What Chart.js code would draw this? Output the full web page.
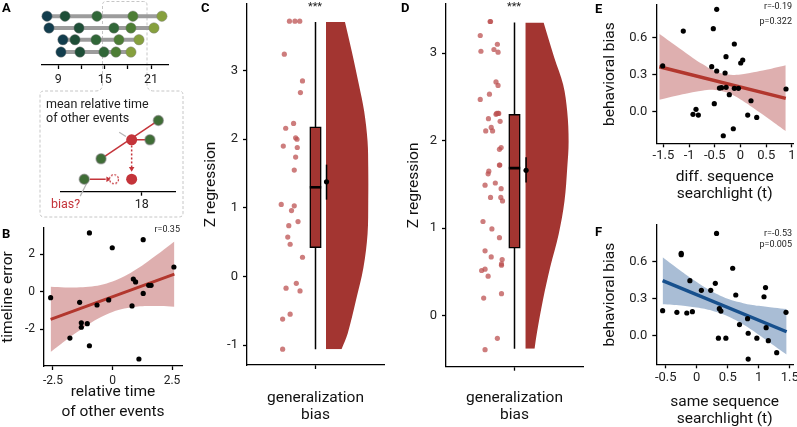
<!DOCTYPE html>
<html>
<head>
<meta charset="utf-8">
<script src="https://cdn.jsdelivr.net/npm/chart.js@4.4.1/dist/chart.umd.min.js"></script>
<style>
  html, body { margin: 0; padding: 0; background: #fff; }
  body { width: 797px; height: 427px; position: relative; overflow: hidden; font-family: Roboto, sans-serif; }
  canvas { position: absolute; }
  .lbl { position: absolute; font-weight: bold; font-size: 13px; line-height: 13px; color: #000; }
  .txt { position: absolute; white-space: nowrap; color: #222; }
  .stat { position: absolute; white-space: nowrap; font-size: 9px; line-height: 9px; color: #222; text-align: right; }
</style>
</head>
<body>
<svg width="195" height="222" style="position:absolute;left:0;top:0">
  <path d="M102.5,84 L102.5,5 Q102.5,1.5 106,1.5 L143.5,1.5 Q147,1.5 147,5 L147,84 Q147,91 154,91 L179,91 Q183,91 183,95 L183,213 Q183,217 179,217 L44,217 Q40,217 40,213 L40,95 Q40,91 44,91 L95.5,91 Q102.5,91 102.5,84 Z"
        fill="none" stroke="#c6c6c6" stroke-width="1" stroke-dasharray="3,2"/>
</svg>

<canvas id="aTop" width="195" height="95" style="left:0;top:0"></canvas>
<canvas id="aBot" width="195" height="125" style="left:0;top:95px"></canvas>
<canvas id="chartB" width="190" height="200" style="left:0;top:222px"></canvas>
<canvas id="chartC" width="195" height="427" style="left:195px;top:0"></canvas>
<canvas id="chartD" width="190" height="427" style="left:400px;top:0"></canvas>
<canvas id="chartE" width="202" height="215" style="left:595px;top:0"></canvas>
<canvas id="chartF" width="202" height="212" style="left:595px;top:215px"></canvas>

<div class="lbl" style="left:2px;top:1px">A</div>
<div class="lbl" style="left:2px;top:227px">B</div>
<div class="lbl" style="left:201px;top:1px">C</div>
<div class="lbl" style="left:401px;top:1px">D</div>
<div class="lbl" style="left:595px;top:2px">E</div>
<div class="lbl" style="left:595px;top:225px">F</div>

<div class="txt" style="left:46px;top:97px;font-size:12.5px;line-height:14.3px">mean relative time<br>of other events</div>
<div class="txt" style="left:51px;top:197px;font-size:12.5px;line-height:14px;color:#c4343a">bias?</div>

<div class="stat" style="right:617px;top:225px">r=0.35</div>
<div class="stat" style="right:5px;top:2px">r=-0.19</div>
<div class="stat" style="right:5px;top:17px">p=0.322</div>
<div class="stat" style="right:5px;top:229px">r=-0.53</div>
<div class="stat" style="right:5px;top:240px">p=0.005</div>

<div class="txt" style="left:300px;top:1px;width:30px;text-align:center;font-size:11px;line-height:11px">***</div>
<div class="txt" style="left:499px;top:1px;width:30px;text-align:center;font-size:11px;line-height:11px">***</div>

<script>
// ---- panel A: event timelines (schematic) ----
const aRowLevel = [4.15, 3.15, 2.15, 1.1];
const aRowTimes = [
  [7.54, 9.87, 14.0, 18.66, 22.41],
  [7.8, 11.68, 16.2, 18.4, 21.38],
  [9.6, 11.16, 13.88, 16.85, 19.44],
  [9.35, 11.8, 14.9, 16.46, 18.4]
];
const aEventColors = ['#123d4d', '#1e4e37', '#316738', '#4d7d35', '#86a03e'];
const aTopTicks = [9, 12, 15, 18, 21];
const aTopLabels = ['9', '', '15', '', '21'];

// zoomed-in schematic
const aOtherT = [14.17, 15.29, 18.55, 19.11];
const aOtherLevel = [1.27, 3.34, 5.27, 7.24];
const aMeanT = 17.33;
const aMeanLevel = 5.27;
const aExpectT = 16.15;
const aBotTicks = [18];
const aBotLabels = ['18'];

// ---- panel B ----
const bX = [-0.97, 1.29, -0.01, 2.58, 0.875, 0.97, 1.52, 1.62, 1.29, -2.6, -1.38, -0.65, -0.16, 0.82, -1.31, -1.31, -1.06, -1.79, -0.97, 1.11];
const bY = [3.14, 2.78, 2.35, 1.32, 0.68, 0.52, 0.34, 0.34, -0.09, -0.32, -0.57, -0.71, -0.44, -0.76, -1.66, -1.90, -1.71, -2.48, -2.89, -3.60];
const bFitX = [-2.6, 2.6];
const bFitY = [-1.48, 0.94];
const bBandX = [-2.6, -2, -1.5, -1, -0.5, 0, 0.5, 1, 1.5, 2, 2.6];
const bBandHi = [0.26, 0.23, 0.23, 0.265, 0.36, 0.54, 0.82, 1.195, 1.63, 2.09, 2.68];
const bBandLo = [-3.22, -2.63, -2.17, -1.735, -1.36, -1.08, -0.90, -0.805, -0.77, -0.77, -0.80];
const bXTicks = [-2.5, 0, 2.5];
const bXLabels = ['-2.5', '0', '2.5'];
const bYTicks = [-2, 0, 2];
const bYLabels = ['-2', '0', '2'];

// ---- panel C ----
const cX = [-0.38, -0.30, -0.23, -0.455, -0.19, -0.22, -0.32, -0.435, -0.29, -0.27, -0.47, -0.266, -0.29, -0.31, -0.50, -0.31, -0.35, -0.255, -0.39, -0.405, -0.37, -0.19, -0.28, -0.43, -0.226, -0.37, -0.48, -0.48];
const cY = [3.72, 3.72, 3.72, 3.24, 2.85, 2.68, 2.23, 2.16, 2.02, 2.00, 1.90, 1.88, 1.74, 1.55, 1.05, 1.03, 0.96, 0.80, 0.74, 0.575, 0.47, 0.28, -0.10, -0.17, -0.21, -0.55, -0.62, -1.06];
const cBox = [0.42, 1.30, 2.18];      // q1, median, q3
const cWhisker = [-1.06, 3.71];
const cMean = [1.38, 1.12, 1.63];     // mean, lower, upper
const cViolinY = [3.71, 3.28, 2.79, 2.41, 1.97, 1.59, 1.10, 0.62, 0.13, -0.35, -0.83, -1.06];
const cViolinRight = [0.43, 0.53, 0.635, 0.71, 0.76, 0.77, 0.77, 0.76, 0.70, 0.59, 0.47, 0.38];
const cYTicks = [-1, 0, 1, 2, 3];
const cYLabels = ['-1', '0', '1', '2', '3'];

// ---- panel D ----
const dX = [-0.356, -0.35, -0.50, -0.49, -0.25, -0.30, -0.24, -0.27, -0.24, -0.366, -0.50, -0.26, -0.24, -0.23, -0.27, -0.38, -0.21, -0.34, -0.32, -0.42, -0.195, -0.22, -0.22, -0.215, -0.375, -0.385, -0.28, -0.43, -0.195, -0.35, -0.20, -0.175, -0.46, -0.33, -0.22, -0.43, -0.34, -0.18, -0.19, -0.19, -0.48, -0.43, -0.385, -0.19, -0.45, -0.25, -0.43];
const dY = [3.36, 3.36, 3.20, 3.02, 3.10, 3.04, 3.01, 2.67, 2.63, 2.53, 2.47, 2.31, 2.31, 2.31, 2.30, 2.25, 2.22, 2.15, 2.11, 2.11, 1.92, 1.90, 1.72, 1.72, 1.65, 1.62, 1.515, 1.49, 1.45, 1.35, 1.35, 1.31, 1.075, 0.99, 0.89, 0.74, 0.67, 0.64, 0.59, 0.575, 0.515, 0.53, 0.45, 0.25, 0.20, -0.26, -0.39];
const dBox = [0.77, 1.685, 2.30];
const dWhisker = [-0.38, 3.35];
const dMean = [1.66, 1.52, 1.81];
const dViolinY = [3.35, 2.95, 2.64, 2.33, 1.99, 1.69, 1.31, 0.93, 0.55, 0.18, -0.2, -0.38];
const dViolinRight = [0.425, 0.58, 0.71, 0.77, 0.79, 0.77, 0.73, 0.645, 0.52, 0.416, 0.327, 0.293];
const dYTicks = [0, 1, 2, 3];
const dYLabels = ['0', '1', '2', '3'];

// ---- panel E ----
const eX = [-0.463, -1.113, -0.529, -0.12, -0.282, 0.043, 0.004, -0.56, -1.514, -0.463, -0.30, -0.28, -0.41, -0.37, -0.12, -0.04, -0.218, 0.204, 0.885, -0.51, -0.866, -0.924, -0.82, 0.14, 0.315, -0.14, -0.335];
const eY = [0.830, 0.654, 0.673, 0.549, 0.446, 0.419, 0.395, 0.365, 0.371, 0.330, 0.314, 0.198, 0.192, 0.195, 0.19, 0.19, 0.138, 0.089, 0.184, 0.065, 0.019, -0.021, -0.027, -0.027, -0.046, -0.138, -0.195];
const eFitX = [-1.58, 0.88];
const eFitY = [0.365, 0.108];
const eBandX = [-1.58, -1.25, -1, -0.75, -0.5, -0.25, 0, 0.25, 0.5, 0.88];
const eBandHi = [0.632, 0.532, 0.458, 0.388, 0.330, 0.301, 0.302, 0.319, 0.340, 0.377];
const eBandLo = [0.098, 0.130, 0.152, 0.170, 0.176, 0.153, 0.100, 0.031, -0.042, -0.157];
const eXTicks = [-1.5, -1, -0.5, 0, 0.5, 1];
const eXLabels = ['-1.5', '-1', '-0.5', '0', '0.5', '1'];

// ---- panel F ----
const fX = [0.32, -0.25, -0.25, 0.58, -0.11, 0.30, 1.11, 0.075, 0.226, 0.63, 1.085, 0.365, 0.39, -0.55, -0.32, -0.16, -0.07, 1.44, 0.82, 0.69, 1.12, 0.83, 0.35, 0.47, 0.97, 1.155, 1.29, 0.83];
const fY = [0.83, 0.668, 0.657, 0.547, 0.446, 0.425, 0.39, 0.368, 0.368, 0.33, 0.316, 0.219, 0.2, 0.203, 0.19, 0.184, 0.195, 0.19, 0.138, 0.09, 0.065, 0.02, -0.02, -0.02, -0.02, -0.04, -0.138, -0.19];
const fFitX = [-0.55, 1.45];
const fFitY = [0.446, 0.032];
const fBandX = [-0.55, -0.25, 0, 0.25, 0.5, 0.75, 1.0, 1.25, 1.45];
const fBandHi = [0.636, 0.523, 0.436, 0.358, 0.299, 0.264, 0.242, 0.227, 0.217];
const fBandLo = [0.256, 0.245, 0.228, 0.202, 0.157, 0.090, 0.008, -0.081, -0.153];
const fXTicks = [-0.5, 0, 0.5, 1, 1.5];
const fXLabels = ['-0.5', '0', '0.5', '1', '1.5'];

const biasTicks = [0, 0.3, 0.6];
const biasLabels = ['0.0', '0.3', '0.6'];

Chart.defaults.font.family = 'Roboto, sans-serif';
Chart.defaults.color = '#222';

const RED = '#b2372e';
const BLUE = '#17508d';
const VIOLIN = '#a33531';
const NONE = 'rgba(0,0,0,0)';
const TITLE_SIZE = 15.5;

const pts = (xs, ys) => xs.map((x, i) => ({ x: x, y: ys[i] }));

// axis with fixed size so the plot areas line up with the figure
function ax(o) {
  return {
    type: 'linear',
    display: o.display !== false,
    min: o.min,
    max: o.max,
    offset: false,
    border: { display: true, color: '#000', width: 1.3 },
    grid: { display: true, drawOnChartArea: false, drawTicks: true, tickLength: 4, tickWidth: 1.3, tickColor: '#000', offset: false },
    ticks: {
      autoSkip: false, maxRotation: 0, minRotation: 0,
      padding: o.pad == null ? 5 : o.pad,
      color: '#222',
      font: { size: o.font || 12 },
      callback: (v, i) => o.labels[i]
    },
    title: o.title ? {
      display: true, text: o.title, color: '#111',
      font: { size: TITLE_SIZE, lineHeight: o.lh || 1.1 },
      padding: o.titlePad
    } : { display: false },
    afterBuildTicks: s => { s.ticks = o.ticks.map(v => ({ value: v })); },
    afterFit: s => {
      if (s.isHorizontal()) s.height = o.size; else s.width = o.size;
      s.paddingLeft = s.paddingRight = s.paddingTop = s.paddingBottom = 0;
    }
  };
}

function opts(padding, scales) {
  return {
    responsive: false,
    animation: false,
    devicePixelRatio: 1,
    events: [],
    layout: { padding: padding },
    plugins: { legend: { display: false }, tooltip: { enabled: false } },
    scales: scales
  };
}

function dashedCircle(r, color) {
  const c = document.createElement('canvas');
  const s = Math.ceil(r * 2 + 3);
  c.width = s; c.height = s;
  const g = c.getContext('2d');
  g.beginPath();
  g.arc(s / 2, s / 2, r, 0, Math.PI * 2);
  g.fillStyle = '#fff';
  g.fill();
  g.setLineDash([2, 1.5]);
  g.strokeStyle = color;
  g.lineWidth = 1.2;
  g.stroke();
  return c;
}

// ---------- A top: timelines ----------
new Chart(document.getElementById('aTop'), {
  type: 'scatter',
  data: {
    datasets: aRowTimes.map((times, r) => ({
      type: 'line',
      data: times.map(t => ({ x: t, y: aRowLevel[r] })),
      borderColor: '#9c9c9c',
      borderWidth: 4,
      pointRadius: 5.2,
      pointBackgroundColor: aEventColors,
      pointBorderColor: 'rgba(130,130,130,0.45)',
      pointBorderWidth: 1,
      clip: false
    }))
  },
  options: opts({ left: 42, right: 27, top: 0, bottom: 0 }, {
    x: ax({ min: 6.89, max: 23.2, ticks: aTopTicks, labels: aTopLabels, size: 30, font: 12.5, pad: 3 }),
    y: { type: 'linear', display: false, min: 0, max: 5 }
  })
});

// ---------- A bottom: zoomed schematic ----------
const lvl0 = aOtherLevel[0];
new Chart(document.getElementById('aBot'), {
  type: 'scatter',
  data: {
    datasets: [
      { data: pts(aOtherT, aOtherLevel), pointRadius: 5, pointBackgroundColor: '#3f6e36', pointBorderColor: 'rgba(120,120,120,0.5)', pointBorderWidth: 1.5, clip: false, order: 1 },
      { data: [{ x: aMeanT, y: aMeanLevel }, { x: aMeanT, y: lvl0 }], pointRadius: 5.5, pointBackgroundColor: '#c4343a', pointBorderWidth: 0, clip: false, order: 1 },
      { data: [{ x: aExpectT, y: lvl0 }], pointStyle: dashedCircle(4.5, '#c4343a'), clip: false, order: 1 },
      { data: [{ x: 15.75, y: lvl0 }], pointStyle: 'triangle', rotation: 90, pointRadius: 3.2, pointBackgroundColor: '#c4343a', pointBorderColor: '#c4343a', pointBorderWidth: 0, order: 1 },
      { data: [{ x: aMeanT, y: 2.35 }], pointStyle: 'triangle', rotation: 180, pointRadius: 3.2, pointBackgroundColor: '#c4343a', pointBorderColor: '#c4343a', pointBorderWidth: 0, order: 1 },
      { type: 'line', data: [{ x: aOtherT[1], y: aOtherLevel[1] }, { x: aOtherT[3], y: aOtherLevel[3] }], borderColor: '#c4343a', borderWidth: 1.5, pointRadius: 0, order: 2 },
      { type: 'line', data: [{ x: aMeanT, y: aMeanLevel }, { x: aOtherT[2], y: aOtherLevel[2] }], borderColor: '#c4343a', borderWidth: 1.5, pointRadius: 0, order: 2 },
      { type: 'line', data: [{ x: aMeanT, y: 4.7 }, { x: aMeanT, y: 2.5 }], borderColor: '#c4343a', borderWidth: 1.5, borderDash: [2, 2], pointRadius: 0, order: 2 },
      { type: 'line', data: [{ x: 14.55, y: lvl0 }, { x: 15.6, y: lvl0 }], borderColor: '#c4343a', borderWidth: 1.5, pointRadius: 0, order: 2 },
      { type: 'line', data: [{ x: 16.5, y: 6.05 }, { x: 16.95, y: 5.6 }], borderColor: '#b5b5b5', borderWidth: 1.2, pointRadius: 0, clip: false, order: 2 },
      { type: 'line', data: [{ x: 14.35, y: 0.9 }, { x: 13.9, y: -0.45 }], borderColor: '#b5b5b5', borderWidth: 1.2, pointRadius: 0, clip: false, order: 2 }
    ]
  },
  options: opts({ left: 61, right: 20, top: 5, bottom: 0 }, {
    x: ax({ min: 12.62, max: 20.22, ticks: aBotTicks, labels: aBotLabels, size: 28.3, font: 12.5, pad: 2 }),
    y: { type: 'linear', display: false, min: 0, max: 9.17 }
  })
});

// ---------- regression panels ----------
function regression(id, d) {
  return new Chart(document.getElementById(id), {
    type: 'scatter',
    data: {
      datasets: [
        { data: pts(d.x, d.y), pointRadius: 2.6, pointBackgroundColor: '#000', pointBorderWidth: 0, clip: false, order: 1 },
        { type: 'line', data: pts(d.fitX, d.fitY), borderColor: d.line, borderWidth: d.lw, pointRadius: 0, order: 2 },
        { type: 'line', data: pts(d.bandX, d.bandHi), fill: '+1', backgroundColor: d.band, borderColor: NONE, borderWidth: 1, pointRadius: 0, tension: 0.4, order: 3 },
        { type: 'line', data: pts(d.bandX, d.bandLo), fill: false, borderColor: NONE, borderWidth: 1, pointRadius: 0, tension: 0.4, order: 3 }
      ]
    },
    options: opts(d.padding, { x: d.xAxis, y: d.yAxis })
  });
}

regression('chartB', {
  x: bX, y: bY, fitX: bFitX, fitY: bFitY, bandX: bBandX, bandHi: bBandHi, bandLo: bBandLo,
  line: RED, lw: 3, band: 'rgba(168,45,45,0.38)',
  padding: { left: 0, top: 6, right: 8, bottom: 0 },
  xAxis: ax({ min: -2.878, max: 2.92, ticks: bXTicks, labels: bXLabels, size: 56, font: 12, pad: 4,
              title: ['relative time', 'of other events'], lh: 1.25, titlePad: { top: 0, bottom: 0.5 } }),
  yAxis: ax({ min: -3.973, max: 3.406, ticks: bYTicks, labels: bYLabels, size: 44, font: 12,
              title: 'timeline error', titlePad: { top: 0, bottom: 0 } })
});

regression('chartE', {
  x: eX, y: eY, fitX: eFitX, fitY: eFitY, bandX: eBandX, bandHi: eBandHi, bandLo: eBandLo,
  line: RED, lw: 3.5, band: 'rgba(168,45,45,0.38)',
  padding: { left: 0, top: 5, right: 4, bottom: 0 },
  xAxis: ax({ min: -1.638, max: 1.021, ticks: eXTicks, labels: eXLabels, size: 71.7, font: 13, pad: 1,
              title: ['diff. sequence', 'searchlight (t)'], lh: 1.08, titlePad: { top: 0, bottom: 12.3 } }),
  yAxis: ax({ min: -0.256, max: 0.865, ticks: biasTicks, labels: biasLabels, size: 61.3, font: 13,
              title: 'behavioral bias', titlePad: { top: 7, bottom: 0 } })
});

regression('chartF', {
  x: fX, y: fY, fitX: fFitX, fitY: fFitY, bandX: fBandX, bandHi: fBandHi, bandLo: fBandLo,
  line: BLUE, lw: 3.5, band: 'rgba(40,90,150,0.4)',
  padding: { left: 0, top: 10, right: 4, bottom: 0 },
  xAxis: ax({ min: -0.652, max: 1.553, ticks: fXTicks, labels: fXLabels, size: 62.7, font: 13, pad: 2,
              title: ['same sequence', 'searchlight (t)'], lh: 1.08, titlePad: { top: 0, bottom: 0 } }),
  yAxis: ax({ min: -0.232, max: 0.898, ticks: biasTicks, labels: biasLabels, size: 61.3, font: 13,
              title: 'behavioral bias', titlePad: { top: 7, bottom: 0 } })
});

// ---------- raincloud panels ----------
function raincloud(id, d) {
  const half = 0.083;
  const meanX = d.violinLeft + 0.008;
  return new Chart(document.getElementById(id), {
    type: 'scatter',
    data: {
      datasets: [
        { data: pts(d.x, d.y), pointRadius: 2.6, pointBackgroundColor: 'rgba(188,82,82,0.75)', pointBorderWidth: 0, clip: false, order: 1 },
        { data: [{ x: meanX, y: d.mean[0] }], pointRadius: 2.6, pointBackgroundColor: '#000', pointBorderWidth: 0, order: 1 },
        { type: 'line', data: [{ x: meanX, y: d.mean[1] }, { x: meanX, y: d.mean[2] }], borderColor: '#000', borderWidth: 1.5, pointRadius: 0, order: 2 },
        { type: 'line', data: [{ x: -half, y: d.box[1] }, { x: half, y: d.box[1] }], borderColor: '#000', borderWidth: 2.6, pointRadius: 0, order: 3 },
        { type: 'bar', data: [{ x: 0, y: [d.box[0], d.box[2]] }], barThickness: 11.5, backgroundColor: VIOLIN, borderColor: '#000', borderWidth: 1.5, borderSkipped: false, order: 4 },
        { type: 'line', data: [{ x: 0, y: d.whisker[0] }, { x: 0, y: d.whisker[1] }], borderColor: '#000', borderWidth: 1.5, pointRadius: 0, order: 5 },
        { type: 'line', indexAxis: 'y', data: pts(d.violinRight, d.violinY), fill: { value: d.violinLeft },
          backgroundColor: VIOLIN, borderColor: NONE, borderWidth: 1, pointRadius: 0, tension: 0.35, order: 6 }
      ]
    },
    options: opts(d.padding, { x: d.xAxis, y: d.yAxis })
  });
}

raincloud('chartC', {
  x: cX, y: cY, box: cBox, whisker: cWhisker, mean: cMean,
  violinY: cViolinY, violinRight: cViolinRight, violinLeft: 0.153,
  padding: { left: 0, top: 2, right: 6, bottom: 0 },
  xAxis: ax({ min: -1, max: 1, ticks: [0], labels: [''], size: 62,
              title: ['generalization', 'bias'], lh: 1.1, titlePad: { top: 0, bottom: 3.5 } }),
  yAxis: ax({ min: -1.29, max: 3.971, ticks: cYTicks, labels: cYLabels, size: 52, font: 13,
              title: 'Z regression', titlePad: { top: 7.2, bottom: 0 } })
});

raincloud('chartD', {
  x: dX, y: dY, box: dBox, whisker: dWhisker, mean: dMean,
  violinY: dViolinY, violinRight: dViolinRight, violinLeft: 0.161,
  padding: { left: 0, top: 2, right: 7, bottom: 0 },
  xAxis: ax({ min: -1, max: 1, ticks: [0], labels: [''], size: 60.3,
              title: ['generalization', 'bias'], lh: 1.1, titlePad: { top: 0, bottom: 3.5 } }),
  yAxis: ax({ min: -0.584, max: 3.56, ticks: dYTicks, labels: dYLabels, size: 46, font: 13,
              title: 'Z regression', titlePad: { top: 5.5, bottom: 0 } })
});
</script>
</body>
</html>
